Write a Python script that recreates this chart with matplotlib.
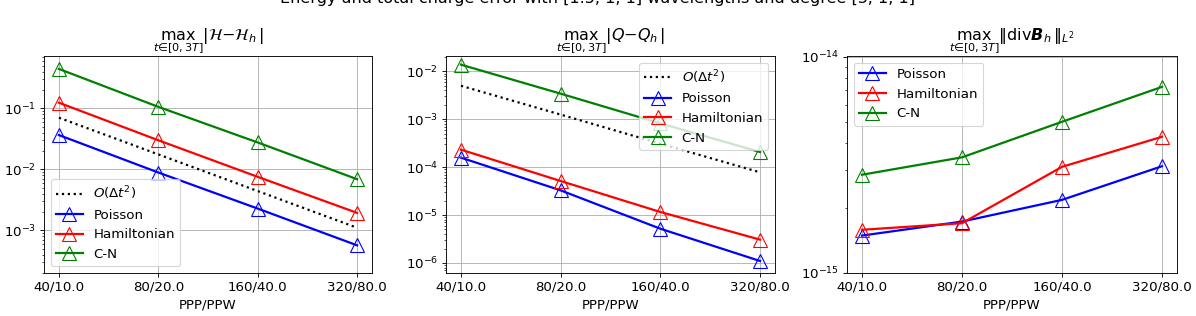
import matplotlib
matplotlib.use("Agg")
import matplotlib.pyplot as plt
import numpy as np

plt.rcParams['font.size'] = 12
plt.rcParams['mathtext.fontset'] = 'dejavusans'

# resolution labels on the x axis
ppp_labels = ['40/10.0', '80/20.0', '160/40.0', '320/80.0']

# max |H - H_h|
energy_poisson = [0.0365, 0.00887, 0.00227, 0.000566]
energy_hamilton = [0.124, 0.030, 0.00753, 0.00193]
energy_cn = [0.444, 0.106, 0.0276, 0.00689]
energy_ref = [0.0703, 0.0176, 0.0044, 0.0011]

# max |Q - Q_h|
charge_poisson = [1.58e-4, 3.28e-5, 5.19e-6, 1.1e-6]
charge_hamilton = [2.32e-4, 5.14e-5, 1.16e-5, 3.07e-6]
charge_cn = [1.377e-2, 3.42e-3, 8.2e-4, 2.07e-4]
charge_ref = [5.0e-3, 1.25e-3, 3.1e-4, 7.8e-5]

# max ||div B_h||
divb_poisson = [1.49e-15, 1.73e-15, 2.18e-15, 3.12e-15]
divb_hamilton = [1.585e-15, 1.70e-15, 3.10e-15, 4.27e-15]
divb_cn = [2.85e-15, 3.43e-15, 5.01e-15, 7.27e-15]

W, H, DPI = 1196, 316, 80
fig = plt.figure(figsize=(W / DPI, H / DPI), dpi=DPI)

def axes_px(left, right, top, bottom):
    return fig.add_axes([left / W, (H - bottom) / H, (right - left) / W, (bottom - top) / H])

ax1 = axes_px(44, 372, 56, 273)
ax2 = axes_px(446, 775, 56, 273)
ax3 = axes_px(847, 1177, 56, 273)

x = np.arange(len(ppp_labels))
style = dict(marker='^', markersize=13, markerfacecolor='none', markeredgewidth=1.0, linewidth=2)

def draw(ax, poisson, hamilton, cn, ref=None):
    if ref is not None:
        ax.plot(x, ref, 'k:', linewidth=2, label=r'$O(\Delta t^2)$')
    ax.plot(x, poisson, color='b', label='Poisson', **style)
    ax.plot(x, hamilton, color='r', label='Hamiltonian', **style)
    ax.plot(x, cn, color='g', label='C-N', **style)
    ax.set_yscale('log')
    ax.set_xticks(x)
    ax.set_xticklabels(ppp_labels)
    ax.set_xlim(-0.15, 3.15)
    ax.set_xlabel('PPP/PPW')
    ax.grid(True)

draw(ax1, energy_poisson, energy_hamilton, energy_cn, energy_ref)
ax1.set_ylim(1.99e-4, 0.724)
ax1.legend(loc='lower left')
ax1.set_title(r'$\max_{t\in[0,3T]}|\mathcal{H}-\mathcal{H}_h|$')

draw(ax2, charge_poisson, charge_hamilton, charge_cn, charge_ref)
ax2.set_ylim(6.18e-7, 0.0209)
ax2.legend(loc='upper right')
ax2.set_title(r'$\max_{t\in[0,3T]}|Q-Q_h|$')

draw(ax3, divb_poisson, divb_hamilton, divb_cn)
ax3.set_ylim(1e-15, 1.01e-14)
ax3.yaxis.set_minor_formatter(matplotlib.ticker.NullFormatter())
ax3.legend(loc='upper left')
ax3.set_title(r'$\max_{t\in[0,3T]}\|\mathrm{div}\boldsymbol{B}_h\|_{L^2}$')

fig.text(0.5, 1 - 3.2 / H, 'Energy and total charge error with [1.5, 1, 1] wavelengths and degree [3, 1, 1]',
         ha='center', va='baseline', fontsize=14.4)

fig.savefig('out.png', dpi=DPI)
